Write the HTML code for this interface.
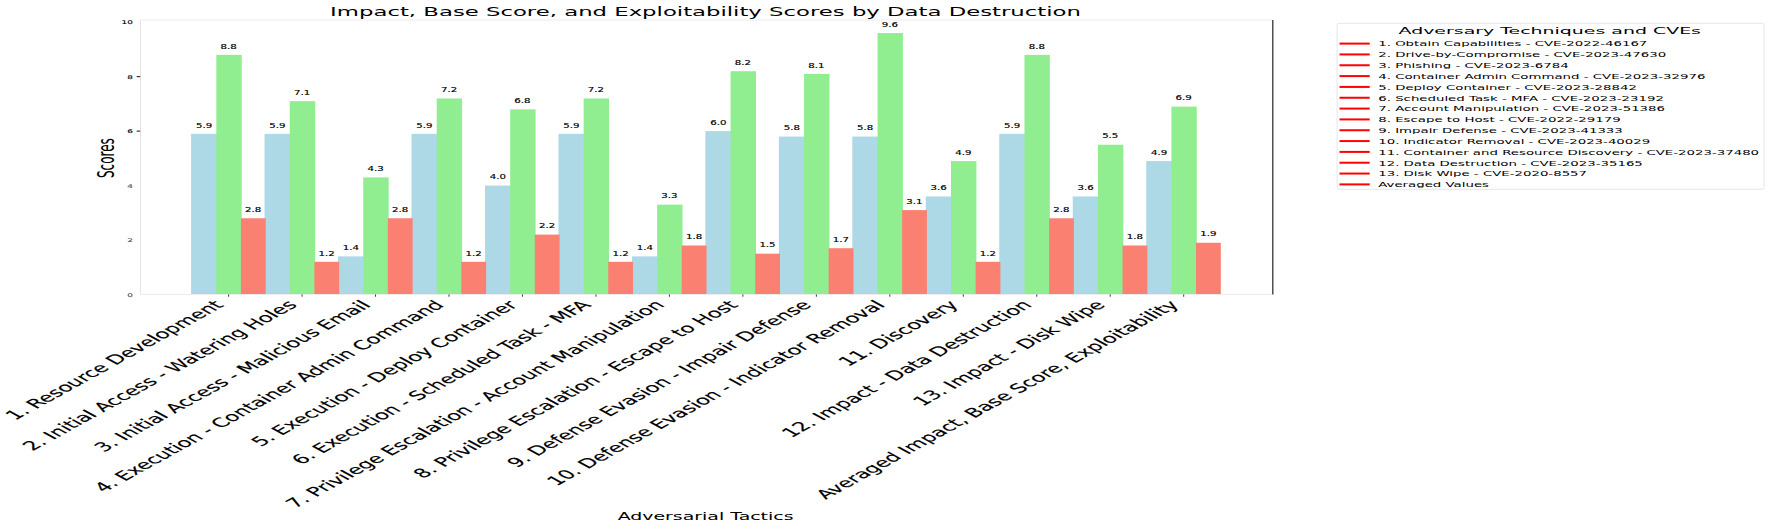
<!DOCTYPE html>
<html><head><meta charset="utf-8"><title>Impact, Base Score, and Exploitability Scores</title>
<style>html,body{margin:0;padding:0;background:#fff}svg{display:block}text{font-family:"DejaVu Sans","Liberation Sans",sans-serif;fill:#000}</style></head><body>
<svg width="1772" height="527" viewBox="0 0 1772 527">
<rect width="1772" height="527" fill="#fff"/>
<rect x="191.10" y="133.84" width="26.00" height="160.66" fill="#add8e6"/>
<rect x="264.57" y="133.84" width="26.00" height="160.66" fill="#add8e6"/>
<rect x="338.04" y="256.38" width="26.00" height="38.12" fill="#add8e6"/>
<rect x="411.51" y="133.84" width="26.00" height="160.66" fill="#add8e6"/>
<rect x="484.98" y="185.58" width="26.00" height="108.92" fill="#add8e6"/>
<rect x="558.45" y="133.84" width="26.00" height="160.66" fill="#add8e6"/>
<rect x="631.92" y="256.38" width="26.00" height="38.12" fill="#add8e6"/>
<rect x="705.39" y="131.12" width="26.00" height="163.38" fill="#add8e6"/>
<rect x="778.86" y="136.57" width="26.00" height="157.93" fill="#add8e6"/>
<rect x="852.33" y="136.57" width="26.00" height="157.93" fill="#add8e6"/>
<rect x="925.80" y="196.47" width="26.00" height="98.03" fill="#add8e6"/>
<rect x="999.27" y="133.84" width="26.00" height="160.66" fill="#add8e6"/>
<rect x="1072.74" y="196.47" width="26.00" height="98.03" fill="#add8e6"/>
<rect x="1146.21" y="161.07" width="26.00" height="133.43" fill="#add8e6"/>
<rect x="216.30" y="54.88" width="25.40" height="239.62" fill="#90ee90"/>
<rect x="289.77" y="101.17" width="25.40" height="193.33" fill="#90ee90"/>
<rect x="363.24" y="177.41" width="25.40" height="117.09" fill="#90ee90"/>
<rect x="436.71" y="98.44" width="25.40" height="196.06" fill="#90ee90"/>
<rect x="510.18" y="109.34" width="25.40" height="185.16" fill="#90ee90"/>
<rect x="583.65" y="98.44" width="25.40" height="196.06" fill="#90ee90"/>
<rect x="657.12" y="204.64" width="25.40" height="89.86" fill="#90ee90"/>
<rect x="730.59" y="71.21" width="25.40" height="223.29" fill="#90ee90"/>
<rect x="804.06" y="73.94" width="25.40" height="220.56" fill="#90ee90"/>
<rect x="877.53" y="33.09" width="25.40" height="261.41" fill="#90ee90"/>
<rect x="951.00" y="161.07" width="25.40" height="133.43" fill="#90ee90"/>
<rect x="1024.47" y="54.88" width="25.40" height="239.62" fill="#90ee90"/>
<rect x="1097.94" y="144.73" width="25.40" height="149.77" fill="#90ee90"/>
<rect x="1171.41" y="106.61" width="25.40" height="187.89" fill="#90ee90"/>
<rect x="240.90" y="218.26" width="24.80" height="76.24" fill="#fa8072"/>
<rect x="314.37" y="261.82" width="24.80" height="32.68" fill="#fa8072"/>
<rect x="387.84" y="218.26" width="24.80" height="76.24" fill="#fa8072"/>
<rect x="461.31" y="261.82" width="24.80" height="32.68" fill="#fa8072"/>
<rect x="534.78" y="234.59" width="24.80" height="59.91" fill="#fa8072"/>
<rect x="608.25" y="261.82" width="24.80" height="32.68" fill="#fa8072"/>
<rect x="681.72" y="245.49" width="24.80" height="49.01" fill="#fa8072"/>
<rect x="755.19" y="253.66" width="24.80" height="40.84" fill="#fa8072"/>
<rect x="828.66" y="248.21" width="24.80" height="46.29" fill="#fa8072"/>
<rect x="902.13" y="210.09" width="24.80" height="84.41" fill="#fa8072"/>
<rect x="975.60" y="261.82" width="24.80" height="32.68" fill="#fa8072"/>
<rect x="1049.07" y="218.26" width="24.80" height="76.24" fill="#fa8072"/>
<rect x="1122.54" y="245.49" width="24.80" height="49.01" fill="#fa8072"/>
<rect x="1196.01" y="242.76" width="24.80" height="51.74" fill="#fa8072"/>
<g fill="none" stroke-width="1">
<line x1="140.5" y1="20.0" x2="140.5" y2="294.5" stroke="#e4e4e4"/>
<line x1="140.5" y1="20.0" x2="1272.8" y2="20.0" stroke="#ececec"/>
<line x1="140.5" y1="294.5" x2="1272.8" y2="294.5" stroke="#ececec"/>
<line x1="1272.8" y1="20.0" x2="1272.8" y2="294.5" stroke="#333" stroke-width="1.3"/>
</g>
<text transform="translate(132.8,296.50) scale(1.893,1.1)" font-size="4.7" stroke="#000" stroke-width="0.1" text-anchor="end" opacity="0.7">0</text>
<text transform="translate(132.8,242.04) scale(1.893,1.1)" font-size="4.7" stroke="#000" stroke-width="0.1" text-anchor="end" opacity="0.7">2</text>
<text transform="translate(132.8,187.58) scale(1.893,1.1)" font-size="4.7" stroke="#000" stroke-width="0.1" text-anchor="end" opacity="0.7">4</text>
<line x1="136.7" y1="131.12" x2="140.2" y2="131.12" stroke="#111" stroke-width="1"/>
<text transform="translate(132.8,133.12) scale(1.893,1.1)" font-size="4.7" stroke="#000" stroke-width="0.1" text-anchor="end" opacity="1">6</text>
<line x1="136.7" y1="76.66" x2="140.2" y2="76.66" stroke="#111" stroke-width="1"/>
<text transform="translate(132.8,78.66) scale(1.893,1.1)" font-size="4.7" stroke="#000" stroke-width="0.1" text-anchor="end" opacity="1">8</text>
<text transform="translate(132.8,24.20) scale(1.893,1.1)" font-size="4.7" stroke="#000" stroke-width="0.1" text-anchor="end" opacity="1">10</text>
<line x1="228.60" y1="294.5" x2="228.60" y2="296.7" stroke="#333" stroke-width="1"/>
<text transform="translate(212.80,299.20) scale(1.9119,1.0480) rotate(-45)" font-size="12" text-anchor="end" dominant-baseline="hanging" stroke="#000" stroke-width="0.12">1. Resource Development</text>
<line x1="302.07" y1="294.5" x2="302.07" y2="296.7" stroke="#333" stroke-width="1"/>
<text transform="translate(286.27,299.20) scale(1.9119,1.0480) rotate(-45)" font-size="12" text-anchor="end" dominant-baseline="hanging" stroke="#000" stroke-width="0.12">2. Initial Access - Watering Holes</text>
<line x1="375.54" y1="294.5" x2="375.54" y2="296.7" stroke="#333" stroke-width="1"/>
<text transform="translate(359.74,299.20) scale(1.9119,1.0480) rotate(-45)" font-size="12" text-anchor="end" dominant-baseline="hanging" stroke="#000" stroke-width="0.12">3. Initial Access - Malicious Email</text>
<line x1="449.01" y1="294.5" x2="449.01" y2="296.7" stroke="#333" stroke-width="1"/>
<text transform="translate(433.21,299.20) scale(1.9119,1.0480) rotate(-45)" font-size="12" text-anchor="end" dominant-baseline="hanging" stroke="#000" stroke-width="0.12">4. Execution - Container Admin Command</text>
<line x1="522.48" y1="294.5" x2="522.48" y2="296.7" stroke="#333" stroke-width="1"/>
<text transform="translate(506.68,299.20) scale(1.9119,1.0480) rotate(-45)" font-size="12" text-anchor="end" dominant-baseline="hanging" stroke="#000" stroke-width="0.12">5. Execution - Deploy Container</text>
<line x1="595.95" y1="294.5" x2="595.95" y2="296.7" stroke="#333" stroke-width="1"/>
<text transform="translate(580.15,299.20) scale(1.9119,1.0480) rotate(-45)" font-size="12" text-anchor="end" dominant-baseline="hanging" stroke="#000" stroke-width="0.12">6. Execution - Scheduled Task - MFA</text>
<line x1="669.42" y1="294.5" x2="669.42" y2="296.7" stroke="#333" stroke-width="1"/>
<text transform="translate(653.62,299.20) scale(1.9119,1.0480) rotate(-45)" font-size="12" text-anchor="end" dominant-baseline="hanging" stroke="#000" stroke-width="0.12">7. Privilege Escalation - Account Manipulation</text>
<line x1="742.89" y1="294.5" x2="742.89" y2="296.7" stroke="#333" stroke-width="1"/>
<text transform="translate(727.09,299.20) scale(1.9119,1.0480) rotate(-45)" font-size="12" text-anchor="end" dominant-baseline="hanging" stroke="#000" stroke-width="0.12">8. Privilege Escalation - Escape to Host</text>
<line x1="816.36" y1="294.5" x2="816.36" y2="296.7" stroke="#333" stroke-width="1"/>
<text transform="translate(800.56,299.20) scale(1.9119,1.0480) rotate(-45)" font-size="12" text-anchor="end" dominant-baseline="hanging" stroke="#000" stroke-width="0.12">9. Defense Evasion - Impair Defense</text>
<line x1="889.83" y1="294.5" x2="889.83" y2="296.7" stroke="#333" stroke-width="1"/>
<text transform="translate(874.03,299.20) scale(1.9119,1.0480) rotate(-45)" font-size="12" text-anchor="end" dominant-baseline="hanging" stroke="#000" stroke-width="0.12">10. Defense Evasion - Indicator Removal</text>
<line x1="963.30" y1="294.5" x2="963.30" y2="296.7" stroke="#333" stroke-width="1"/>
<text transform="translate(947.50,299.20) scale(1.9119,1.0480) rotate(-45)" font-size="12" text-anchor="end" dominant-baseline="hanging" stroke="#000" stroke-width="0.12">11. Discovery</text>
<line x1="1036.77" y1="294.5" x2="1036.77" y2="296.7" stroke="#333" stroke-width="1"/>
<text transform="translate(1020.97,299.20) scale(1.9119,1.0480) rotate(-45)" font-size="12" text-anchor="end" dominant-baseline="hanging" stroke="#000" stroke-width="0.12">12. Impact - Data Destruction</text>
<line x1="1110.24" y1="294.5" x2="1110.24" y2="296.7" stroke="#333" stroke-width="1"/>
<text transform="translate(1094.44,299.20) scale(1.9119,1.0480) rotate(-45)" font-size="12" text-anchor="end" dominant-baseline="hanging" stroke="#000" stroke-width="0.12">13. Impact - Disk Wipe</text>
<line x1="1183.71" y1="294.5" x2="1183.71" y2="296.7" stroke="#333" stroke-width="1"/>
<text transform="translate(1167.91,299.20) scale(1.9119,1.0480) rotate(-45)" font-size="12" text-anchor="end" dominant-baseline="hanging" stroke="#000" stroke-width="0.12">Averaged Impact, Base Score, Exploitability</text>
<text transform="translate(204.00,127.54) scale(1.893,1.3)" font-size="5.4" text-anchor="middle" stroke="#000" stroke-width="0.12">5.9</text>
<text transform="translate(277.47,127.54) scale(1.893,1.3)" font-size="5.4" text-anchor="middle" stroke="#000" stroke-width="0.12">5.9</text>
<text transform="translate(350.94,250.08) scale(1.893,1.3)" font-size="5.4" text-anchor="middle" stroke="#000" stroke-width="0.12">1.4</text>
<text transform="translate(424.41,127.54) scale(1.893,1.3)" font-size="5.4" text-anchor="middle" stroke="#000" stroke-width="0.12">5.9</text>
<text transform="translate(497.88,179.28) scale(1.893,1.3)" font-size="5.4" text-anchor="middle" stroke="#000" stroke-width="0.12">4.0</text>
<text transform="translate(571.35,127.54) scale(1.893,1.3)" font-size="5.4" text-anchor="middle" stroke="#000" stroke-width="0.12">5.9</text>
<text transform="translate(644.82,250.08) scale(1.893,1.3)" font-size="5.4" text-anchor="middle" stroke="#000" stroke-width="0.12">1.4</text>
<text transform="translate(718.29,124.82) scale(1.893,1.3)" font-size="5.4" text-anchor="middle" stroke="#000" stroke-width="0.12">6.0</text>
<text transform="translate(791.76,130.27) scale(1.893,1.3)" font-size="5.4" text-anchor="middle" stroke="#000" stroke-width="0.12">5.8</text>
<text transform="translate(865.23,130.27) scale(1.893,1.3)" font-size="5.4" text-anchor="middle" stroke="#000" stroke-width="0.12">5.8</text>
<text transform="translate(938.70,190.17) scale(1.893,1.3)" font-size="5.4" text-anchor="middle" stroke="#000" stroke-width="0.12">3.6</text>
<text transform="translate(1012.17,127.54) scale(1.893,1.3)" font-size="5.4" text-anchor="middle" stroke="#000" stroke-width="0.12">5.9</text>
<text transform="translate(1085.64,190.17) scale(1.893,1.3)" font-size="5.4" text-anchor="middle" stroke="#000" stroke-width="0.12">3.6</text>
<text transform="translate(1159.11,154.77) scale(1.893,1.3)" font-size="5.4" text-anchor="middle" stroke="#000" stroke-width="0.12">4.9</text>
<text transform="translate(228.60,48.58) scale(1.893,1.3)" font-size="5.4" text-anchor="middle" stroke="#000" stroke-width="0.12">8.8</text>
<text transform="translate(302.07,94.87) scale(1.893,1.3)" font-size="5.4" text-anchor="middle" stroke="#000" stroke-width="0.12">7.1</text>
<text transform="translate(375.54,171.11) scale(1.893,1.3)" font-size="5.4" text-anchor="middle" stroke="#000" stroke-width="0.12">4.3</text>
<text transform="translate(449.01,92.14) scale(1.893,1.3)" font-size="5.4" text-anchor="middle" stroke="#000" stroke-width="0.12">7.2</text>
<text transform="translate(522.48,103.04) scale(1.893,1.3)" font-size="5.4" text-anchor="middle" stroke="#000" stroke-width="0.12">6.8</text>
<text transform="translate(595.95,92.14) scale(1.893,1.3)" font-size="5.4" text-anchor="middle" stroke="#000" stroke-width="0.12">7.2</text>
<text transform="translate(669.42,198.34) scale(1.893,1.3)" font-size="5.4" text-anchor="middle" stroke="#000" stroke-width="0.12">3.3</text>
<text transform="translate(742.89,64.91) scale(1.893,1.3)" font-size="5.4" text-anchor="middle" stroke="#000" stroke-width="0.12">8.2</text>
<text transform="translate(816.36,67.64) scale(1.893,1.3)" font-size="5.4" text-anchor="middle" stroke="#000" stroke-width="0.12">8.1</text>
<text transform="translate(889.83,26.79) scale(1.893,1.3)" font-size="5.4" text-anchor="middle" stroke="#000" stroke-width="0.12">9.6</text>
<text transform="translate(963.30,154.77) scale(1.893,1.3)" font-size="5.4" text-anchor="middle" stroke="#000" stroke-width="0.12">4.9</text>
<text transform="translate(1036.77,48.58) scale(1.893,1.3)" font-size="5.4" text-anchor="middle" stroke="#000" stroke-width="0.12">8.8</text>
<text transform="translate(1110.24,138.43) scale(1.893,1.3)" font-size="5.4" text-anchor="middle" stroke="#000" stroke-width="0.12">5.5</text>
<text transform="translate(1183.71,100.31) scale(1.893,1.3)" font-size="5.4" text-anchor="middle" stroke="#000" stroke-width="0.12">6.9</text>
<text transform="translate(253.20,211.96) scale(1.893,1.3)" font-size="5.4" text-anchor="middle" stroke="#000" stroke-width="0.12">2.8</text>
<text transform="translate(326.67,255.52) scale(1.893,1.3)" font-size="5.4" text-anchor="middle" stroke="#000" stroke-width="0.12">1.2</text>
<text transform="translate(400.14,211.96) scale(1.893,1.3)" font-size="5.4" text-anchor="middle" stroke="#000" stroke-width="0.12">2.8</text>
<text transform="translate(473.61,255.52) scale(1.893,1.3)" font-size="5.4" text-anchor="middle" stroke="#000" stroke-width="0.12">1.2</text>
<text transform="translate(547.08,228.29) scale(1.893,1.3)" font-size="5.4" text-anchor="middle" stroke="#000" stroke-width="0.12">2.2</text>
<text transform="translate(620.55,255.52) scale(1.893,1.3)" font-size="5.4" text-anchor="middle" stroke="#000" stroke-width="0.12">1.2</text>
<text transform="translate(694.02,239.19) scale(1.893,1.3)" font-size="5.4" text-anchor="middle" stroke="#000" stroke-width="0.12">1.8</text>
<text transform="translate(767.49,247.35) scale(1.893,1.3)" font-size="5.4" text-anchor="middle" stroke="#000" stroke-width="0.12">1.5</text>
<text transform="translate(840.96,241.91) scale(1.893,1.3)" font-size="5.4" text-anchor="middle" stroke="#000" stroke-width="0.12">1.7</text>
<text transform="translate(914.43,203.79) scale(1.893,1.3)" font-size="5.4" text-anchor="middle" stroke="#000" stroke-width="0.12">3.1</text>
<text transform="translate(987.90,255.52) scale(1.893,1.3)" font-size="5.4" text-anchor="middle" stroke="#000" stroke-width="0.12">1.2</text>
<text transform="translate(1061.37,211.96) scale(1.893,1.3)" font-size="5.4" text-anchor="middle" stroke="#000" stroke-width="0.12">2.8</text>
<text transform="translate(1134.84,239.19) scale(1.893,1.3)" font-size="5.4" text-anchor="middle" stroke="#000" stroke-width="0.12">1.8</text>
<text transform="translate(1208.31,236.46) scale(1.893,1.3)" font-size="5.4" text-anchor="middle" stroke="#000" stroke-width="0.12">1.9</text>
<text transform="translate(705.5,16.3) scale(1.8975,0.95)" font-size="12" text-anchor="middle">Impact, Base Score, and Exploitability Scores by Data Destruction</text>
<text transform="translate(705.6,520.0) scale(1.893,1.0)" font-size="10" text-anchor="middle">Adversarial Tactics</text>
<text transform="translate(113.6,158.1) scale(1.893,1.0) rotate(-90)" font-size="12" text-anchor="middle">Scores</text>
<rect x="1337.1" y="23.3" width="427" height="166" rx="2" fill="#fff" stroke="#e6e6e6" stroke-width="1"/>
<text transform="translate(1549.75,34.3) scale(1.893,0.93)" font-size="10" text-anchor="middle">Adversary Techniques and CVEs</text>
<line x1="1339.5" y1="43.60" x2="1369.7" y2="43.60" stroke="#ff0000" stroke-width="2"/>
<text transform="translate(1378.2,46.40) scale(1.9025,1.05)" font-size="7">1. Obtain Capabilities - CVE-2022-46167</text>
<line x1="1339.5" y1="54.43" x2="1369.7" y2="54.43" stroke="#ff0000" stroke-width="2"/>
<text transform="translate(1378.2,57.23) scale(1.9025,1.05)" font-size="7">2. Drive-by-Compromise - CVE-2023-47630</text>
<line x1="1339.5" y1="65.26" x2="1369.7" y2="65.26" stroke="#ff0000" stroke-width="2"/>
<text transform="translate(1378.2,68.06) scale(1.9025,1.05)" font-size="7">3. Phishing - CVE-2023-6784</text>
<line x1="1339.5" y1="76.09" x2="1369.7" y2="76.09" stroke="#ff0000" stroke-width="2"/>
<text transform="translate(1378.2,78.89) scale(1.9025,1.05)" font-size="7">4. Container Admin Command - CVE-2023-32976</text>
<line x1="1339.5" y1="86.92" x2="1369.7" y2="86.92" stroke="#ff0000" stroke-width="2"/>
<text transform="translate(1378.2,89.72) scale(1.9025,1.05)" font-size="7">5. Deploy Container - CVE-2023-28842</text>
<line x1="1339.5" y1="97.75" x2="1369.7" y2="97.75" stroke="#ff0000" stroke-width="2"/>
<text transform="translate(1378.2,100.55) scale(1.9025,1.05)" font-size="7">6. Scheduled Task - MFA - CVE-2023-23192</text>
<line x1="1339.5" y1="108.58" x2="1369.7" y2="108.58" stroke="#ff0000" stroke-width="2"/>
<text transform="translate(1378.2,111.38) scale(1.9025,1.05)" font-size="7">7. Account Manipulation - CVE-2023-51386</text>
<line x1="1339.5" y1="119.41" x2="1369.7" y2="119.41" stroke="#ff0000" stroke-width="2"/>
<text transform="translate(1378.2,122.21) scale(1.9025,1.05)" font-size="7">8. Escape to Host - CVE-2022-29179</text>
<line x1="1339.5" y1="130.24" x2="1369.7" y2="130.24" stroke="#ff0000" stroke-width="2"/>
<text transform="translate(1378.2,133.04) scale(1.9025,1.05)" font-size="7">9. Impair Defense - CVE-2023-41333</text>
<line x1="1339.5" y1="141.07" x2="1369.7" y2="141.07" stroke="#ff0000" stroke-width="2"/>
<text transform="translate(1378.2,143.87) scale(1.9025,1.05)" font-size="7">10. Indicator Removal - CVE-2023-40029</text>
<line x1="1339.5" y1="151.90" x2="1369.7" y2="151.90" stroke="#ff0000" stroke-width="2"/>
<text transform="translate(1378.2,154.70) scale(1.9025,1.05)" font-size="7">11. Container and Resource Discovery - CVE-2023-37480</text>
<line x1="1339.5" y1="162.73" x2="1369.7" y2="162.73" stroke="#ff0000" stroke-width="2"/>
<text transform="translate(1378.2,165.53) scale(1.9025,1.05)" font-size="7">12. Data Destruction - CVE-2023-35165</text>
<line x1="1339.5" y1="173.56" x2="1369.7" y2="173.56" stroke="#ff0000" stroke-width="2"/>
<text transform="translate(1378.2,176.36) scale(1.9025,1.05)" font-size="7">13. Disk Wipe - CVE-2020-8557</text>
<line x1="1339.5" y1="184.39" x2="1369.7" y2="184.39" stroke="#ff0000" stroke-width="2"/>
<text transform="translate(1378.2,187.19) scale(1.9025,1.05)" font-size="7">Averaged Values</text>
</svg></body></html>
